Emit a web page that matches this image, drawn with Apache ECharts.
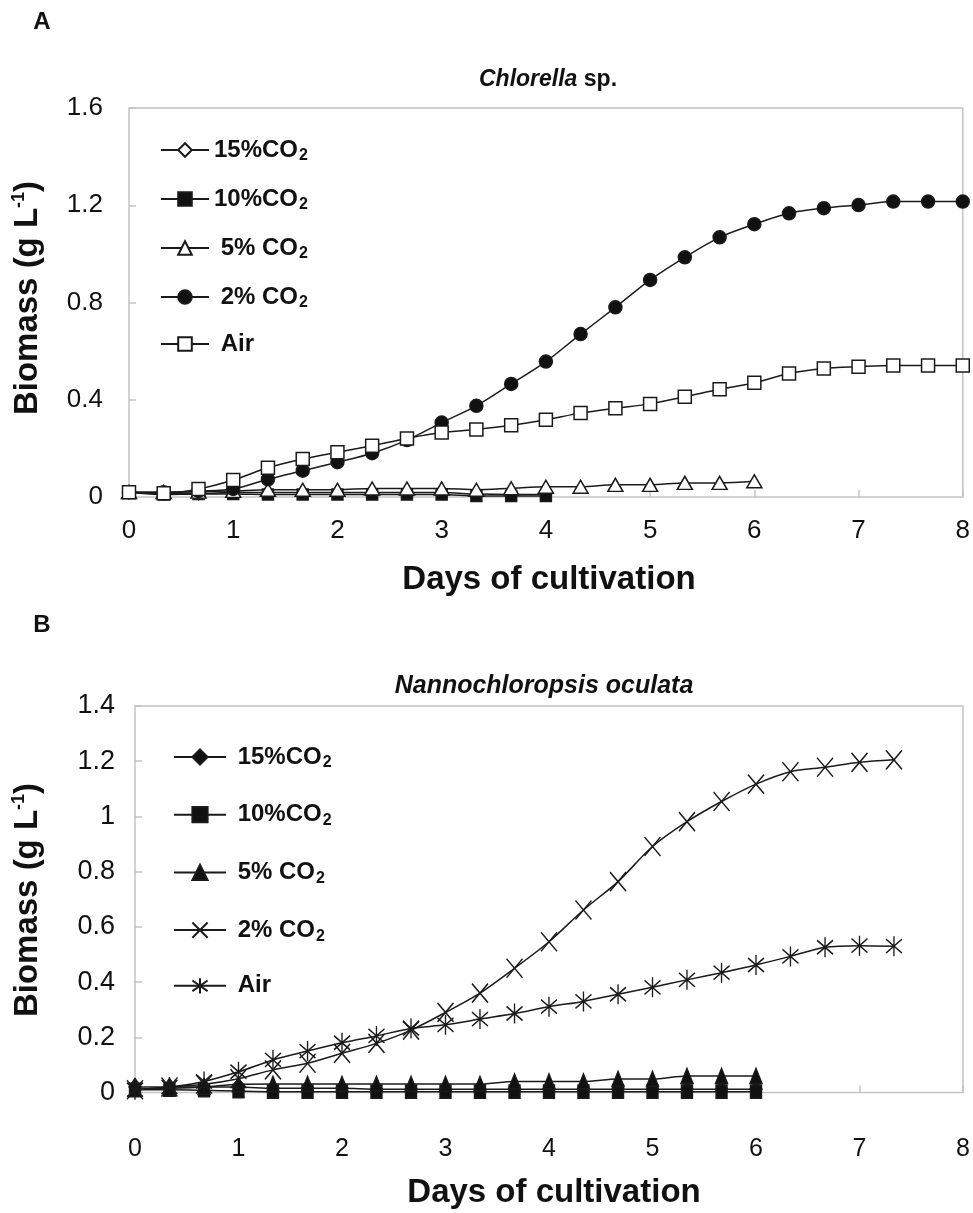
<!DOCTYPE html>
<html>
<head>
<meta charset="utf-8">
<script src="https://cdn.jsdelivr.net/npm/echarts@6/dist/echarts.min.js"></script>
<style>
  html, body { margin: 0; padding: 0; background: #fff; }
  #chart { width: 973px; height: 1213px; }
</style>
</head>
<body>
<div id="chart"></div>
<script>
// sampling days (every 8 h)
var days = [0, 0.333, 0.667, 1, 1.333, 1.667, 2, 2.333, 2.667, 3, 3.333, 3.667, 4,
            4.333, 4.667, 5, 5.333, 5.667, 6, 6.333, 6.667, 7, 7.333, 7.667, 8];

// A - Chlorella sp.
var chl15 = [0.02, 0.015, 0.015, 0.018, 0.018, 0.018, 0.018, 0.018, 0.018, 0.018, 0.012, 0.01, 0.01];
var chl10 = [0.02, 0.01, 0.012, 0.012, 0.01, 0.01, 0.01, 0.01, 0.01, 0.01, 0.004, 0.004, 0.004];
var chl5 = [0.02, 0.02, 0.022, 0.025, 0.03, 0.03, 0.03, 0.035, 0.035, 0.035, 0.03, 0.036, 0.042,
            0.042, 0.05, 0.05, 0.058, 0.058, 0.065];
var chl2 = [0.02, 0.02, 0.025, 0.033, 0.073, 0.108, 0.143, 0.18, 0.234, 0.306, 0.375, 0.465, 0.557,
            0.67, 0.78, 0.893, 0.986, 1.068, 1.122, 1.167, 1.188, 1.201, 1.215, 1.215, 1.215];
var chlAir = [0.02, 0.015, 0.033, 0.07, 0.12, 0.156, 0.184, 0.211, 0.241, 0.265, 0.278, 0.295, 0.318,
              0.345, 0.365, 0.383, 0.412, 0.443, 0.47, 0.508, 0.529, 0.536, 0.541, 0.541, 0.541];

// B - Nannochloropsis oculata
var nan15 = [0.02, 0.02, 0.02, 0.02, 0.015, 0.015, 0.015, 0.012, 0.012, 0.012, 0.012, 0.012, 0.012,
             0.012, 0.012, 0.012, 0.012, 0.012, 0.012];
var nan10 = [0.01, 0.01, 0.008, 0.005, 0.003, 0.003, 0.003, 0.003, 0.003, 0.003, 0.003, 0.003, 0.003,
             0.003, 0.003, 0.003, 0.003, 0.003, 0.003];
var nan5 = [0.012, 0.015, 0.02, 0.03, 0.031, 0.031, 0.031, 0.031, 0.031, 0.031, 0.031, 0.04, 0.04,
            0.04, 0.049, 0.049, 0.06, 0.06, 0.06];
var nan2 = [0.01, 0.02, 0.03, 0.05, 0.082, 0.106, 0.142, 0.178, 0.226, 0.29, 0.36, 0.45, 0.546,
            0.661, 0.764, 0.891, 0.981, 1.054, 1.117, 1.162, 1.178, 1.196, 1.205];
var nanAir = [0.01, 0.02, 0.04, 0.075, 0.118, 0.15, 0.18, 0.205, 0.232, 0.245, 0.266, 0.286, 0.311,
              0.33, 0.356, 0.381, 0.408, 0.434, 0.462, 0.493, 0.526, 0.532, 0.53];

var namesA = ['A 15%CO2', 'A 10%CO2', 'A  5% CO2', 'A  2% CO2', 'A  Air'];
var namesB = ['B  15%CO2', 'B  10%CO2', 'B  5% CO2', 'B  2% CO2', 'B  Air'];

var FONT = '"Liberation Sans", Arial, sans-serif';
var INK = '#111';
var FRAME = '#c4c4c4';

var X_MARK = 'path://M0,0L10,12M10,0L0,12';
var STAR_MARK = 'path://M5,0L5,10M0,1.5L10,8.5M0,8.5L10,1.5';

function pairs(ys) {
    return ys.map(function (v, i) { return [days[i], v]; });
}

function lineSeries(name, gi, ys, symbol, size, fill, z) {
    return {
        type: 'line', name: name, xAxisIndex: gi, yAxisIndex: gi,
        data: pairs(ys),
        symbol: symbol, symbolSize: size,
        smooth: 0.3, clip: false, z: z,
        lineStyle: { color: '#1a1a1a', width: 1.5 },
        itemStyle: { color: fill, borderColor: '#1a1a1a', borderWidth: 1.5 },
        emphasis: { disabled: true }
    };
}

function legendLabel(name) {
    var t = name.slice(2);
    if (t.indexOf('CO2') >= 0) return '{m|' + t.replace('CO2', 'CO') + '}{s|2}';
    return '{m|' + t + '}';
}

var legendRich = {
    m: { fontSize: 24, fontWeight: 'bold', lineHeight: 25, color: INK, fontFamily: FONT },
    s: { fontSize: 16, fontWeight: 'bold', lineHeight: 16, padding: [12, 0, 0, 1], color: INK, fontFamily: FONT }
};

function xAxis(gi, margin, size) {
    return {
        type: 'value', gridIndex: gi, min: 0, max: 8, interval: 1,
        axisLine: { show: false },
        axisTick: { show: true, inside: true, length: 7, lineStyle: { color: FRAME, width: 1.5 } },
        axisLabel: { fontSize: size, color: INK, margin: margin, fontFamily: FONT },
        splitLine: { show: false }
    };
}

function yAxis(gi, max, interval, margin, size) {
    return {
        type: 'value', gridIndex: gi, min: 0, max: max, interval: interval,
        axisLine: { show: false },
        axisTick: { show: true, inside: true, length: 7, lineStyle: { color: FRAME, width: 1.5 } },
        axisLabel: { fontSize: size, color: INK, margin: margin, fontFamily: FONT },
        splitLine: { show: false }
    };
}

function text(x, y, str, rich, rot) {
    return {
        type: 'text', x: x, y: y, rotation: rot || 0, silent: true,
        style: {
            text: str, rich: rich, fill: INK,
            textAlign: 'center', textVerticalAlign: 'middle',
            align: 'center', verticalAlign: 'middle'
        }
    };
}

var boldRich = function (size) {
    return { b: { fontSize: size, fontWeight: 'bold', color: INK, fontFamily: FONT } };
};
var yTitleRich = {
    m: { fontSize: 33, fontWeight: 'bold', lineHeight: 35, color: INK, fontFamily: FONT },
    p: { fontSize: 18, fontWeight: 'bold', lineHeight: 18, padding: [0, 0, 17, 0], color: INK, fontFamily: FONT }
};
var italicRich = function (size) {
    return {
        i: { fontSize: size, fontWeight: 'bold', fontStyle: 'italic', color: INK, fontFamily: FONT },
        n: { fontSize: size, fontWeight: 'bold', color: INK, fontFamily: FONT }
    };
};

var chart = echarts.init(document.getElementById('chart'));
chart.setOption({
    animation: false,
    textStyle: { fontFamily: FONT },
    grid: [
        { left: 129, top: 108, width: 838, height: 389, show: true, borderColor: FRAME, borderWidth: 1.5 },
        { left: 135, top: 706, width: 828, height: 386.5, show: true, borderColor: FRAME, borderWidth: 1.5 }
    ],
    xAxis: [xAxis(0, 21, 26), xAxis(1, 44, 25)],
    yAxis: [yAxis(0, 1.6, 0.4, 26, 26), yAxis(1, 1.4, 0.2, 20, 27)],
    legend: [
        {
            orient: 'vertical', left: 160, top: 136, padding: 0,
            itemWidth: 48, itemHeight: 17, itemGap: 21, selectedMode: false,
            data: namesA, formatter: legendLabel,
            textStyle: { rich: legendRich }
        },
        {
            orient: 'vertical', left: 173, top: 743, padding: 0,
            itemWidth: 52, itemHeight: 19, itemGap: 29.7, selectedMode: false,
            data: namesB, formatter: legendLabel,
            textStyle: { rich: legendRich }
        }
    ],
    graphic: [
        text(42, 22, '{b|A}', boldRich(24)),
        text(42, 625, '{b|B}', boldRich(24)),
        text(548, 80, '{i|Chlorella}{n| sp.}', italicRich(23)),
        text(544, 686, '{i|Nannochloropsis oculata}', italicRich(25)),
        text(549, 580, '{b|Days of cultivation}', boldRich(33)),
        text(554, 1193, '{b|Days of cultivation}', boldRich(33)),
        text(28, 298, '{m|Biomass (g L}{p|-1}{m|)}', yTitleRich, Math.PI / 2),
        text(28, 900, '{m|Biomass (g L}{p|-1}{m|)}', yTitleRich, Math.PI / 2)
    ],
    series: [
        lineSeries(namesA[0], 0, chl15, 'diamond', [11, 13], '#fff', 2),
        lineSeries(namesA[1], 0, chl10, 'rect', 11, '#111', 3),
        lineSeries(namesA[2], 0, chl5, 'triangle', [15, 13], '#fff', 4),
        lineSeries(namesA[3], 0, chl2, 'circle', 13, '#111', 5),
        lineSeries(namesA[4], 0, chlAir, 'rect', 13, '#fff', 6),
        lineSeries(namesB[0], 1, nan15, 'diamond', [12, 17], '#111', 2),
        lineSeries(namesB[1], 1, nan10, 'rect', [11, 13], '#111', 3),
        lineSeries(namesB[2], 1, nan5, 'triangle', [12, 15], '#111', 4),
        lineSeries(namesB[3], 1, nan2, X_MARK, [16, 19], 'rgba(0,0,0,0)', 5),
        lineSeries(namesB[4], 1, nanAir, STAR_MARK, [16, 20], 'rgba(0,0,0,0)', 6)
    ]
});
</script>
</body>
</html>
